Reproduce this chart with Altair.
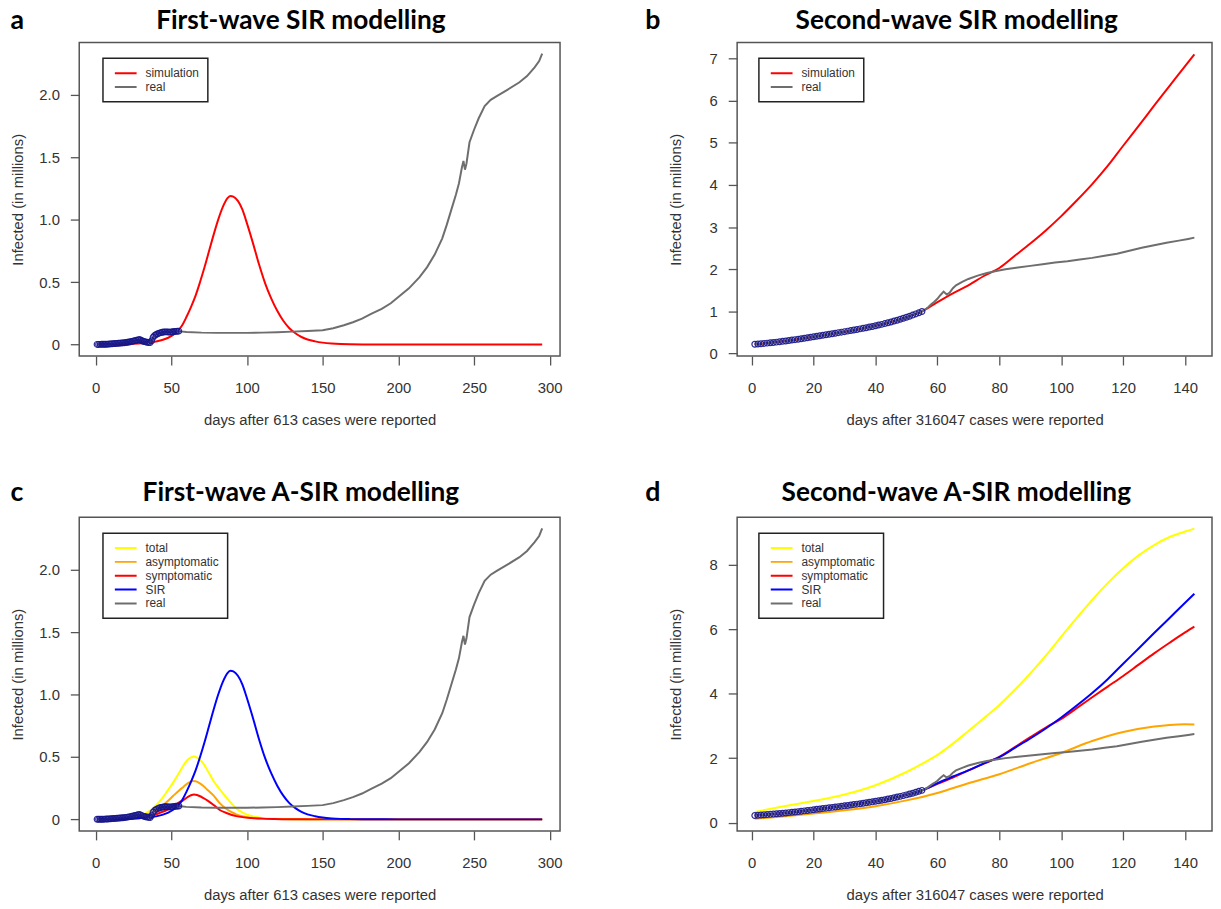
import altair as alt
import pandas as pd

# ---------------- first wave (days after 613 cases) ----------------
fw_obs_days = list(range(1, 56))
fw_obs_vals = [0.0006, 0.0007, 0.0009, 0.0011, 0.0014, 0.0018, 0.0023, 0.003, 0.004, 0.005,
               0.006, 0.007, 0.008, 0.009, 0.010, 0.011, 0.012, 0.013, 0.014, 0.016,
               0.018, 0.020, 0.022, 0.025, 0.028, 0.031, 0.034, 0.037, 0.040, 0.034,
               0.028, 0.024, 0.021, 0.018, 0.016, 0.015, 0.030, 0.058, 0.072, 0.080,
               0.086, 0.091, 0.095, 0.098, 0.100, 0.101, 0.101, 0.100, 0.099, 0.100,
               0.102, 0.104, 0.105, 0.106, 0.107]

fw_real_late_days = [56, 60, 70, 80, 90, 100, 110, 120, 130, 140, 150, 157, 164, 170, 176, 182,
                     189, 195, 201, 207, 214, 219, 224, 229, 232, 235, 238, 240, 242, 243, 244,
                     245, 247, 250, 253, 257, 261, 265, 272, 280, 285, 290, 293, 295]
fw_real_late_vals = [0.105, 0.100, 0.095, 0.093, 0.093, 0.093, 0.095, 0.098, 0.103, 0.108, 0.114,
                     0.13, 0.154, 0.178, 0.207, 0.245, 0.286, 0.33, 0.39, 0.45, 0.54, 0.62, 0.72,
                     0.85, 0.96, 1.08, 1.20, 1.29, 1.42, 1.47, 1.40, 1.45, 1.62, 1.72, 1.81, 1.91,
                     1.96, 1.99, 2.04, 2.10, 2.15, 2.22, 2.27, 2.33]

fw_sir_days = [1, 10, 20, 30, 35, 40, 44, 48, 51, 54, 57, 60, 63, 66, 69, 72, 75, 78, 81, 84, 87,
               89, 91, 94, 97, 100, 104, 108, 112, 116, 120, 124, 128, 132, 136, 140, 145, 150,
               156, 162, 168, 180, 200, 250, 295]
fw_sir_vals = [0.0006, 0.0015, 0.004, 0.010, 0.017, 0.024, 0.036, 0.054, 0.075, 0.105, 0.15, 0.22,
               0.30, 0.39, 0.50, 0.62, 0.75, 0.88, 1.00, 1.10, 1.17, 1.19, 1.185, 1.15, 1.08, 0.97,
               0.81, 0.64, 0.49, 0.37, 0.27, 0.19, 0.13, 0.09, 0.06, 0.04, 0.025, 0.015, 0.008,
               0.004, 0.002, 0.0005, 0.0, 0.0, 0.0]

fw_total_days = [1, 10, 20, 25, 30, 33, 38, 43, 47, 51, 55, 58, 61, 63, 65, 67, 69, 71, 74, 78,
                 82, 86, 90, 93, 97, 100, 104, 110, 118, 130, 150, 295]
fw_total_vals = [0.001, 0.003, 0.008, 0.014, 0.030, 0.048, 0.09, 0.154, 0.22, 0.29, 0.37, 0.432,
                 0.48, 0.497, 0.503, 0.495, 0.475, 0.45, 0.39, 0.305, 0.24, 0.18, 0.125, 0.087,
                 0.055, 0.038, 0.024, 0.012, 0.005, 0.001, 0.0, 0.0]

fw_asym_days = [1, 10, 20, 30, 33, 38, 43, 47, 51, 55, 58, 61, 64, 66, 68, 71, 74, 78, 82, 86, 90,
                93, 97, 103, 110, 120, 140, 295]
fw_asym_vals = [0.0006, 0.002, 0.005, 0.018, 0.034, 0.06, 0.10, 0.14, 0.185, 0.23, 0.26, 0.29,
                0.307, 0.305, 0.295, 0.27, 0.235, 0.19, 0.13, 0.087, 0.058, 0.04, 0.025, 0.013,
                0.006, 0.002, 0.0, 0.0]

fw_sym_days = [1, 10, 20, 30, 38, 43, 47, 51, 55, 58, 61, 63, 65, 67, 69, 71, 74, 78, 82, 86, 90,
               93, 97, 103, 110, 118, 130, 150, 295]
fw_sym_vals = [0.0004, 0.001, 0.003, 0.010, 0.034, 0.055, 0.075, 0.105, 0.135, 0.154, 0.18, 0.193,
               0.199, 0.195, 0.185, 0.172, 0.15, 0.115, 0.075, 0.053, 0.035, 0.026, 0.018, 0.011,
               0.006, 0.003, 0.001, 0.0, 0.0]

# ---------------- second wave (days after 316047 cases) ----------------
sw_obs_days = list(range(1, 56))
sw_obs_vals = [0.220, 0.227, 0.234, 0.241, 0.248, 0.256, 0.264, 0.272, 0.281, 0.290,
               0.300, 0.310, 0.320, 0.330, 0.341, 0.352, 0.363, 0.375, 0.387, 0.400,
               0.412, 0.424, 0.436, 0.448, 0.460, 0.472, 0.484, 0.496, 0.508, 0.520,
               0.533, 0.546, 0.559, 0.572, 0.586, 0.600, 0.614, 0.629, 0.644, 0.660,
               0.676, 0.693, 0.711, 0.730, 0.750, 0.771, 0.792, 0.814, 0.837, 0.860,
               0.886, 0.913, 0.941, 0.970, 1.000]

sw_real_late_days = [56, 57, 58, 59, 60, 61, 62, 63, 64, 65, 66, 68, 70, 73, 76, 79, 82, 86, 90,
                     94, 98, 102, 106, 110, 114, 118, 122, 126, 130, 134, 138, 141, 143]
sw_real_late_vals = [1.04, 1.10, 1.17, 1.23, 1.30, 1.39, 1.47, 1.40, 1.45, 1.55, 1.62, 1.70, 1.77,
                     1.85, 1.91, 1.96, 2.00, 2.04, 2.08, 2.12, 2.16, 2.19, 2.23, 2.27, 2.32, 2.37,
                     2.44, 2.51, 2.57, 2.63, 2.68, 2.72, 2.75]

sw_sir_days = [1, 10, 20, 30, 40, 45, 50, 55, 60, 65, 70, 75, 80, 85, 90, 95, 100, 105, 110, 115,
               120, 125, 130, 135, 140, 143]
sw_sir_vals = [0.22, 0.29, 0.40, 0.52, 0.66, 0.75, 0.86, 1.00, 1.22, 1.43, 1.62, 1.84, 2.03, 2.32,
               2.61, 2.92, 3.26, 3.63, 4.02, 4.45, 4.93, 5.40, 5.88, 6.35, 6.82, 7.10]

sw_total_days = [1, 10, 20, 30, 40, 50, 55, 60, 65, 70, 75, 80, 85, 90, 95, 100, 105, 110, 115,
                 120, 125, 130, 135, 140, 143]
sw_total_vals = [0.33, 0.50, 0.67, 0.87, 1.16, 1.57, 1.82, 2.10, 2.45, 2.84, 3.24, 3.65, 4.12,
                 4.63, 5.18, 5.77, 6.35, 6.91, 7.43, 7.89, 8.29, 8.61, 8.86, 9.03, 9.12]

sw_asym_days = [1, 10, 20, 30, 40, 50, 60, 70, 80, 90, 100, 110, 120, 130, 135, 140, 143]
sw_asym_vals = [0.12, 0.19, 0.28, 0.38, 0.51, 0.69, 0.92, 1.22, 1.50, 1.84, 2.16, 2.53, 2.81,
                2.98, 3.03, 3.05, 3.04]

sw_sym_days = [1, 10, 20, 30, 40, 50, 55, 60, 65, 70, 75, 80, 85, 90, 95, 100, 105, 110, 115,
               120, 125, 130, 135, 140, 143]
sw_sym_vals = [0.22, 0.29, 0.40, 0.52, 0.66, 0.86, 1.00, 1.20, 1.40, 1.62, 1.83, 2.04, 2.34, 2.65,
               2.95, 3.22, 3.55, 3.89, 4.22, 4.55, 4.90, 5.25, 5.58, 5.90, 6.08]

# ---------------- axes ----------------
fw_x_ticks = [0, 50, 100, 150, 200, 250, 300]
sw_x_ticks = [0, 20, 40, 60, 80, 100, 120, 140]
fw_y_ticks = [0, 0.5, 1.0, 1.5, 2.0]
b_y_ticks = [0, 1, 2, 3, 4, 5, 6, 7]
d_y_ticks = [0, 2, 4, 6, 8]

RED, GRAY, YELLOW, ORANGE, BLUE = "#ff0000", "#6e6e6e", "#ffff00", "#ffa500", "#0000ff"
TITLE_FONT = "Lato"
AX_FONT = "Liberation Sans"
H = 317


def panel(letter, title, title_dx, title_offset, letter_x, letter_y, width, x_dom, x_ticks,
          x_title, y_dom, y_ticks, y_expr, series, obs_days, obs_vals, legend_x, legend_y):
    xenc = alt.X("day:Q", scale=alt.Scale(domain=x_dom, nice=False, zero=False),
                 axis=alt.Axis(values=x_ticks, title=x_title, format="d", titleY=64,
                               titleBaseline="middle", labelPadding=16))
    yenc = alt.Y("val:Q", scale=alt.Scale(domain=y_dom, nice=False, zero=False),
                 axis=alt.Axis(values=y_ticks, title="Infected (in millions)", labelExpr=y_expr,
                               titleX=-62, titleY=H / 2, titleAngle=270, labelPadding=11,
                               titleBaseline="middle", titleAlign="center"))
    names = [s[0] for s in series]
    colors = [s[1] for s in series]
    cscale = alt.Scale(domain=names, range=colors)
    leg = alt.Legend(orient="none", legendX=legend_x, legendY=legend_y, title=None,
                     symbolType="stroke", symbolSize=484, symbolStrokeWidth=2,
                     clipHeight=14, symbolOffset=3, labelOffset=8, padding=8, rowPadding=0,
                     strokeColor="#222222", fillColor="white", labelFont=AX_FONT,
                     labelFontSize=12, labelColor="#333333", labelLimit=200)
    cenc = alt.Color("series:N", scale=cscale, legend=leg, sort=names)
    layers = []
    for name, color, days, vals, interp in series:
        df = pd.DataFrame({"day": days, "val": vals, "series": [name] * len(days)})
        layers.append(
            alt.Chart(df).mark_line(strokeWidth=2, interpolate=interp).encode(
                x=xenc, y=yenc, color=cenc))
    obs = alt.Chart(pd.DataFrame({"day": obs_days, "val": obs_vals})).mark_point(
        shape="circle", filled=False, size=34, strokeWidth=1.2, color="#16168c", opacity=0.9
    ).encode(x=xenc, y=yenc)
    lab = alt.Chart(pd.DataFrame({"t": [letter]})).mark_text(
        align="left", baseline="alphabetic", font=TITLE_FONT, fontWeight="bold", fontSize=27,
        color="black"
    ).encode(text="t:N", x=alt.value(letter_x), y=alt.value(letter_y))
    ttl = alt.Chart(pd.DataFrame({"t": [title]})).mark_text(
        align="center", baseline="alphabetic", font=TITLE_FONT, fontWeight="bold",
        fontSize=26.5, color="black"
    ).encode(text="t:N", x=alt.value(width / 2 + title_dx), y=alt.value(-title_offset))
    return alt.layer(*layers, obs, lab, ttl).properties(width=width, height=H)


fmt1 = "datum.value == 0 ? '0' : format(datum.value, '.1f')"
fmt0 = "format(datum.value, 'd')"

pa = panel("a", "First-wave SIR modelling", -19, 14, -69.5, -14, 486,
           [-10.8, 306.8], fw_x_ticks, "days after 613 cases were reported",
           [-0.093, 2.419], fw_y_ticks, fmt1,
           [("simulation", RED, fw_sir_days, fw_sir_vals, "monotone"),
            ("real", GRAY, fw_obs_days + fw_real_late_days, fw_obs_vals + fw_real_late_vals,
             "linear")],
           fw_obs_days, fw_obs_vals, 24, 16)

pb = panel("b", "Second-wave SIR modelling", -18, 14, -93, -14, 480,
           [-4.7, 148.7], sw_x_ticks, "days after 316047 cases were reported",
           [-0.06, 7.38], b_y_ticks, fmt0,
           [("simulation", RED, sw_sir_days, sw_sir_vals, "monotone"),
            ("real", GRAY, sw_obs_days + sw_real_late_days, sw_obs_vals + sw_real_late_vals,
             "linear")],
           sw_obs_days, sw_obs_vals, 22, 16)

pc = panel("c", "First-wave A-SIR modelling", -19, 17, -69.5, -17, 486,
           [-10.8, 306.8], fw_x_ticks, "days after 613 cases were reported",
           [-0.093, 2.419], fw_y_ticks, fmt1,
           [("total", YELLOW, fw_total_days, fw_total_vals, "monotone"),
            ("asymptomatic", ORANGE, fw_asym_days, fw_asym_vals, "monotone"),
            ("symptomatic", RED, fw_sym_days, fw_sym_vals, "monotone"),
            ("SIR", BLUE, fw_sir_days, fw_sir_vals, "monotone"),
            ("real", GRAY, fw_obs_days + fw_real_late_days, fw_obs_vals + fw_real_late_vals,
             "linear")],
           fw_obs_days, fw_obs_vals, 24, 16)

pd_ = panel("d", "Second-wave A-SIR modelling", -18.5, 17, -93, -17, 480,
            [-4.7, 148.7], sw_x_ticks, "days after 316047 cases were reported",
            [-0.26, 9.47], d_y_ticks, fmt0,
            [("total", YELLOW, sw_total_days, sw_total_vals, "monotone"),
             ("asymptomatic", ORANGE, sw_asym_days, sw_asym_vals, "monotone"),
             ("symptomatic", RED, sw_sym_days, sw_sym_vals, "monotone"),
             ("SIR", BLUE, sw_sir_days, sw_sir_vals, "monotone"),
             ("real", GRAY, sw_obs_days + sw_real_late_days, sw_obs_vals + sw_real_late_vals,
              "linear")],
            sw_obs_days, sw_obs_vals, 22, 16)

chart = alt.concat(
    pa, pb, pc, pd_, columns=2, spacing={"row": 163, "column": 179}, bounds="flush"
).resolve_scale(
    x="independent", y="independent", color="independent"
).resolve_legend(
    color="independent"
).properties(
    padding={"left": 1, "top": -7, "right": 0, "bottom": 0}
).configure(
    background="white"
).configure_view(
    stroke="#555555", strokeWidth=1.5
).configure_axis(
    labelFont=AX_FONT, labelFontSize=15, labelColor="#333333",
    titleFont=AX_FONT, titleFontSize=15, titleFontWeight="normal", titleColor="#333333",
    tickColor="#555555", tickSize=9, tickWidth=1.3, domain=False, grid=False
).configure_legend(
    strokeWidth=1.5
)

chart.save("out.html", embed_options={"renderer": "svg", "actions": False})
